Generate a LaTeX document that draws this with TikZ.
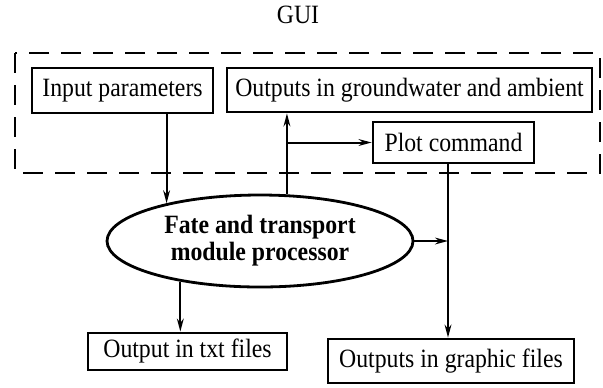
\documentclass[tikz,border=0pt]{standalone}
\usepackage{fontspec}
\setmainfont{Liberation Serif}[FakeStretch=0.9]
\usetikzlibrary{arrows.meta,shapes.geometric}
\tikzset{
  box/.style={draw, line width=1.4pt, inner sep=0pt, font=\fontsize{13.2}{15}\selectfont},
  arr/.style={-{Stealth[length=6.5pt,width=3.4pt]}, line width=1pt},
}
\begin{document}
\begin{tikzpicture}[x=0.5pt,y=-0.5pt]
                \useasboundingbox (0,0) rectangle (603,387);
                % title
                \node[font=\fontsize{13.2}{15}\selectfont] (gui) at (298,15) {GUI};
                % dashed frame
                \draw[line width=1.4pt, dash pattern=on 10pt off 6pt] (15,53) rectangle (600,173);
                % boxes
                \node[box, minimum width=90.5pt, minimum height=22.5pt] (inp) at (122.5,90.5) {Input parameters};
                \node[box, minimum width=182.5pt, minimum height=22pt] (outgw) at (409.5,90) {Outputs in groundwater and ambient};
                \node[box, minimum width=80.5pt, minimum height=20.5pt] (plot) at (453.5,142.5) {Plot command};
                \node[box, minimum width=99.5pt, minimum height=18.5pt] (txt) at (187.5,351.5) {Output in txt files};
                \node[box, minimum width=123pt, minimum height=22pt] (graph) at (451,361) {Outputs in graphic files};
                % processor
                \node[ellipse, draw, line width=1.4pt, inner sep=0pt, minimum width=153pt, minimum height=46pt,
                      align=center, font=\fontsize{13.2}{13.5}\selectfont\bfseries] (proc) at (260,241)
                      {Fate and transport\\module processor};
                % arrows
                \coordinate (jn) at (448,241);
                \draw[arr] (proc.158.6 |- inp.south) -- (proc.158.6);
                \draw[arr] (proc.60) -- (proc.60 |- outgw.south);
                \coordinate (br) at (proc.60 |- plot.west);
                \draw[arr] (br) -- (plot.west);
                \draw[arr] (proc.207.7) -- (proc.207.7 |- txt.north);
                \draw[arr] (proc.east) -- (jn);
                \draw[arr] (jn |- plot.south) -- (jn |- graph.north);
            \end{tikzpicture}
\end{document}
